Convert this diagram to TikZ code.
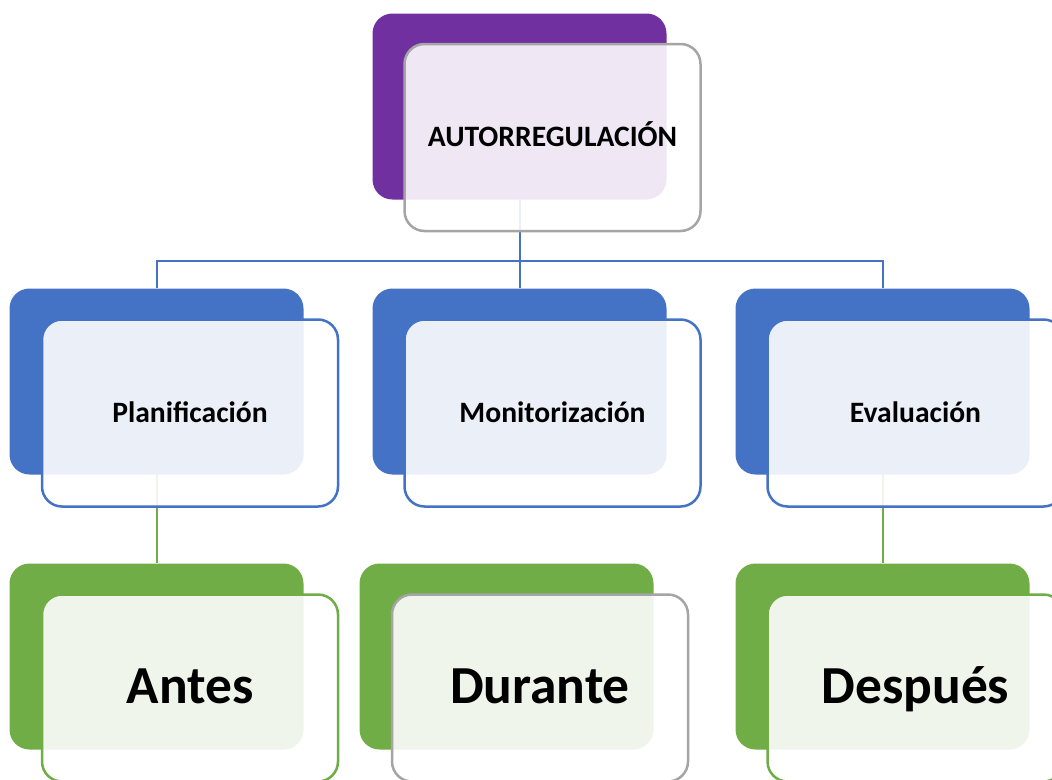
\documentclass[tikz,border=0pt]{standalone}
\usepackage{fontspec}
\setmainfont{Carlito}
\usetikzlibrary{backgrounds}
\definecolor{cpurple}{HTML}{7030A0}
\definecolor{cblue}{HTML}{4472C4}
\definecolor{cgreen}{HTML}{70AD47}
\definecolor{cgray}{HTML}{A5A5A5}
\tikzset{
  backbox/.style={rectangle, rounded corners=20pt, minimum width=294pt, minimum height=186pt, inner sep=0pt, draw=none},
  frontbox/.style={rectangle, rounded corners=20pt, minimum width=296pt, minimum height=187pt, inner sep=0pt,
    fill=white, fill opacity=0.89, text opacity=1, draw opacity=1, line width=2.5pt, font=\bfseries},
  midtext/.style={font=\fontsize{29.6}{34}\selectfont\bfseries, text height=24pt, text depth=6pt},
  bigtext/.style={font=\fontsize{53.5}{60}\selectfont\bfseries, text height=40pt, text depth=10pt},
  bconn/.style={draw=cblue, line width=2pt},
  gconn/.style={draw=cgreen, line width=2pt},
}
\begin{document}
\begin{tikzpicture}[x=1pt,y=-1pt]
\useasboundingbox (0,0) rectangle (1052,779);
\clip (0,0) rectangle (1052,779);
% back boxes
\node[backbox, fill=cpurple] (topd) at (519.5,106.5) {};
\node[backbox, fill=cblue] (pland) at (156.5,381.5) {};
\node[backbox, fill=cblue] (monid) at (519.5,381.5) {};
\node[backbox, fill=cblue] (evald) at (882.5,381.5) {};
\node[backbox, fill=cgreen] (antd) at (156.5,656.5) {};
\node[backbox, fill=cgreen] (durd) at (506.5,656.5) {};
\node[backbox, fill=cgreen] (despd) at (882.5,656.5) {};
% connectors (behind)
\begin{scope}[on background layer]
\draw[bconn] (topd.south) -- ++(0,61) -| (pland.north);
\draw[bconn] (topd.south) -- ++(0,61) -| (evald.north);
\draw[bconn] (topd.south) -- (monid.north);
\draw[gconn] (pland.south) -- (antd.north);
\draw[gconn] (evald.south) -- (despd.north);
\end{scope}
% front boxes
\node[frontbox, draw=cgray, midtext] (top) at (552.5,137.5) {AUTORREGULACIÓN};
\node[frontbox, draw=cblue, midtext] (plan) at (190,413) {Planificación};
\node[frontbox, draw=cblue, midtext] (moni) at (552.5,413) {Monitorización};
\node[frontbox, draw=cblue, midtext] (eval) at (915.5,413) {Evaluación};
\node[frontbox, draw=cgreen, bigtext] (ant) at (190,688) {Antes};
\node[frontbox, draw=cgray, bigtext] (dur) at (540,688) {Durante};
\node[frontbox, draw=cgreen, bigtext] (desp) at (915.5,688) {Después};
\end{tikzpicture}
\end{document}
